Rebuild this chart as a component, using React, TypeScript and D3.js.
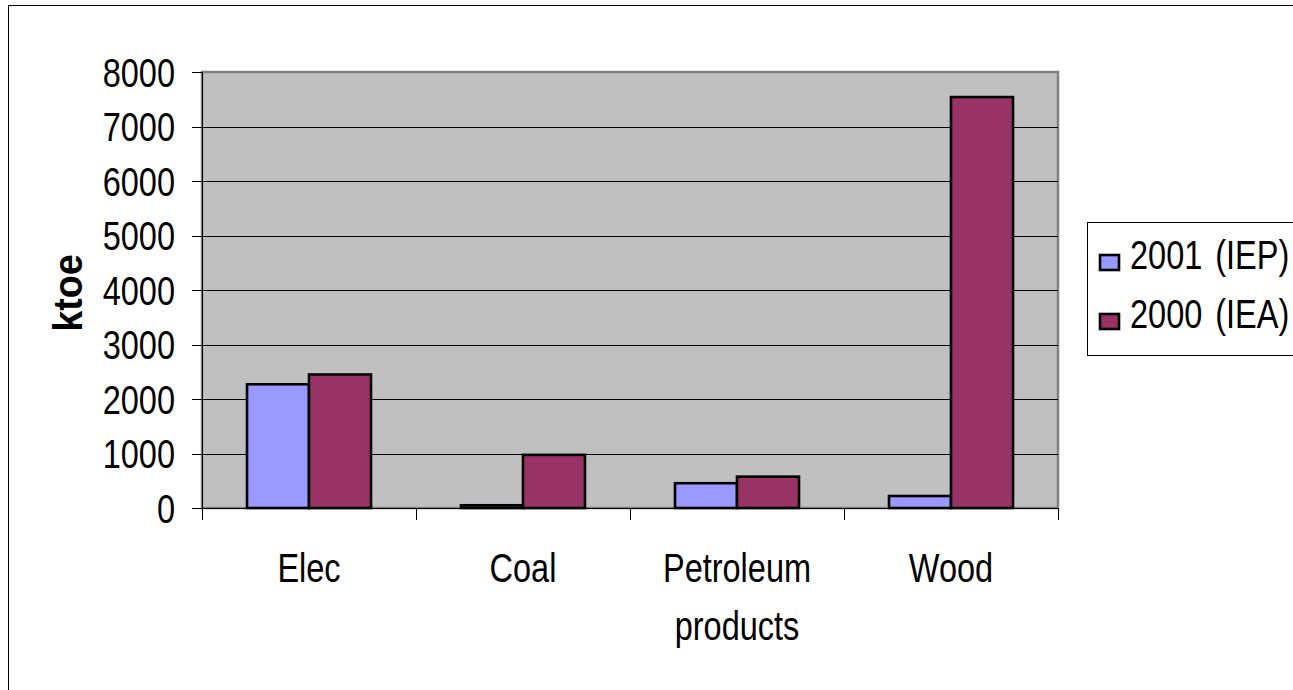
import React, { useRef, useEffect } from "react";
import * as d3 from "d3";

// chart data
const categories = ["Elec", "Coal", "Petroleum products", "Wood"];
const seriesNames = ["2001 (IEP)", "2000 (IEA)"];
const values2001 = [2270, 50, 455, 220];
const values2000 = [2450, 975, 575, 7540];
const yTicks = [0, 1000, 2000, 3000, 4000, 5000, 6000, 7000, 8000];
const colors = ["#9999ff", "#993366"];

const W = 1293;
const H = 690;
const FONT = "'Liberation Sans', Arial, sans-serif";
const STRETCH = 1.25; // text looks vertically stretched in the original

const App = () => {
  const svgRef = useRef<SVGSVGElement>(null);

  useEffect(() => {
    const svg = d3.select(svgRef.current);
    svg.selectAll("*").remove();

    const plot = { left: 202, right: 1058, top: 72, bottom: 508 };

    const x0 = d3
      .scaleBand()
      .domain(categories)
      .range([plot.left, plot.right])
      .paddingInner(0)
      .paddingOuter(0);

    const x1 = d3
      .scaleBand()
      .domain(seriesNames)
      .range([0, x0.bandwidth()])
      .paddingInner(0)
      .paddingOuter(0.726);

    const y = d3.scaleLinear().domain([0, 8000]).range([plot.bottom, plot.top]);

    // outer chart border (runs off the page right and bottom)
    svg
      .append("rect")
      .attr("x", 8.5)
      .attr("y", 5.5)
      .attr("width", 1400)
      .attr("height", 800)
      .attr("fill", "#fff")
      .attr("stroke", "#000")
      .attr("stroke-width", 1);

    // plot area
    svg
      .append("rect")
      .attr("x", plot.left)
      .attr("y", plot.top)
      .attr("width", plot.right - plot.left)
      .attr("height", plot.bottom - plot.top)
      .attr("fill", "#c0c0c0")
      .attr("stroke", "#808080")
      .attr("stroke-width", 2.5);

    // gridlines
    svg
      .append("g")
      .selectAll("line")
      .data(yTicks.filter((t) => t > 0 && t < 8000))
      .join("line")
      .attr("x1", plot.left)
      .attr("x2", plot.right)
      .attr("y1", (d) => Math.round(y(d)) + 0.5)
      .attr("y2", (d) => Math.round(y(d)) + 0.5)
      .attr("stroke", "#000")
      .attr("stroke-width", 1);

    // bars
    const seriesVals = [values2001, values2000];
    const groups = svg
      .append("g")
      .selectAll("g")
      .data(categories)
      .join("g")
      .attr("transform", (d) => `translate(${x0(d)},0)`);

    groups
      .selectAll("rect")
      .data((d) => seriesNames.map((s, k) => ({ s, k, v: seriesVals[k][categories.indexOf(d)] })))
      .join("rect")
      .attr("x", (d) => x1(d.s)!)
      .attr("y", (d) => y(d.v))
      .attr("width", x1.bandwidth())
      .attr("height", (d) => y(0) - y(d.v))
      .attr("fill", (d) => colors[d.k])
      .attr("stroke", "#000")
      .attr("stroke-width", 2.6);

    // y axis
    const yAxis = svg.append("g");
    yAxis
      .append("line")
      .attr("x1", plot.left + 0.5)
      .attr("x2", plot.left + 0.5)
      .attr("y1", plot.top)
      .attr("y2", plot.bottom + 12)
      .attr("stroke", "#000");
    yAxis
      .selectAll("line.tick")
      .data(yTicks)
      .join("line")
      .attr("class", "tick")
      .attr("x1", plot.left - 10)
      .attr("x2", plot.left)
      .attr("y1", (d) => Math.round(y(d)) + 0.5)
      .attr("y2", (d) => Math.round(y(d)) + 0.5)
      .attr("stroke", "#000");
    yAxis
      .selectAll("text")
      .data(yTicks)
      .join("text")
      .attr("transform", (d) => `translate(175,${y(d) + 14.5}) scale(1,${STRETCH})`)
      .attr("text-anchor", "end")
      .attr("font-family", FONT)
      .attr("font-size", 32.5)
      .attr("fill", "#000")
      .text((d) => d);

    // x axis
    const xAxis = svg.append("g");
    xAxis
      .append("line")
      .attr("x1", plot.left)
      .attr("x2", plot.right)
      .attr("y1", plot.bottom + 0.5)
      .attr("y2", plot.bottom + 0.5)
      .attr("stroke", "#000");
    const bounds = categories.map((c) => x0(c)!).concat([plot.right]);
    xAxis
      .selectAll("line.tick")
      .data(bounds)
      .join("line")
      .attr("class", "tick")
      .attr("x1", (d) => Math.round(d) + 0.5)
      .attr("x2", (d) => Math.round(d) + 0.5)
      .attr("y1", plot.bottom)
      .attr("y2", plot.bottom + 12)
      .attr("stroke", "#000");

    const labels = xAxis
      .selectAll("text")
      .data(categories)
      .join("text")
      .attr("text-anchor", "middle")
      .attr("font-family", FONT)
      .attr("font-size", 32.5)
      .attr("fill", "#000");
    labels.each(function (d) {
      const words = d === "Petroleum products" ? ["Petroleum", "products"] : [d];
      const cx = x0(d)! + x0.bandwidth() / 2;
      words.forEach((w, i) => {
        d3.select(this)
          .append("tspan")
          .attr("x", 0)
          .attr("y", i * 46.5)
          .text(w);
      });
      d3.select(this).attr("transform", `translate(${cx},582) scale(1,${STRETCH})`);
    });

    // y axis title
    svg
      .append("text")
      .attr("transform", `translate(82,293) rotate(-90) scale(0.92,1)`)
      .attr("text-anchor", "middle")
      .attr("font-family", FONT)
      .attr("font-weight", "bold")
      .attr("font-size", 41)
      .attr("fill", "#000")
      .text("ktoe");

    // legend
    const legend = svg.append("g");
    legend
      .append("rect")
      .attr("x", 1087.5)
      .attr("y", 222.5)
      .attr("width", 300)
      .attr("height", 133)
      .attr("fill", "#fff")
      .attr("stroke", "#000")
      .attr("stroke-width", 1);
    seriesNames.forEach((s, i) => {
      const base = 269 + i * 59;
      legend
        .append("rect")
        .attr("x", 1100)
        .attr("y", base - 14)
        .attr("width", 19)
        .attr("height", 15)
        .attr("fill", colors[i])
        .attr("stroke", "#000")
        .attr("stroke-width", 2.6);
      legend
        .append("text")
        .attr("transform", `translate(1130,${base}) scale(1,${STRETCH})`)
        .attr("font-family", FONT)
        .attr("font-size", 32.5)
        .attr("word-spacing", 4)
        .attr("fill", "#000")
        .text(s);
    });
  }, []);

  return (
    <svg
      ref={svgRef}
      width={W}
      height={H}
      style={{ position: "absolute", left: 0, top: 0, background: "#fff" }}
    ></svg>
  );
};

export default App;
